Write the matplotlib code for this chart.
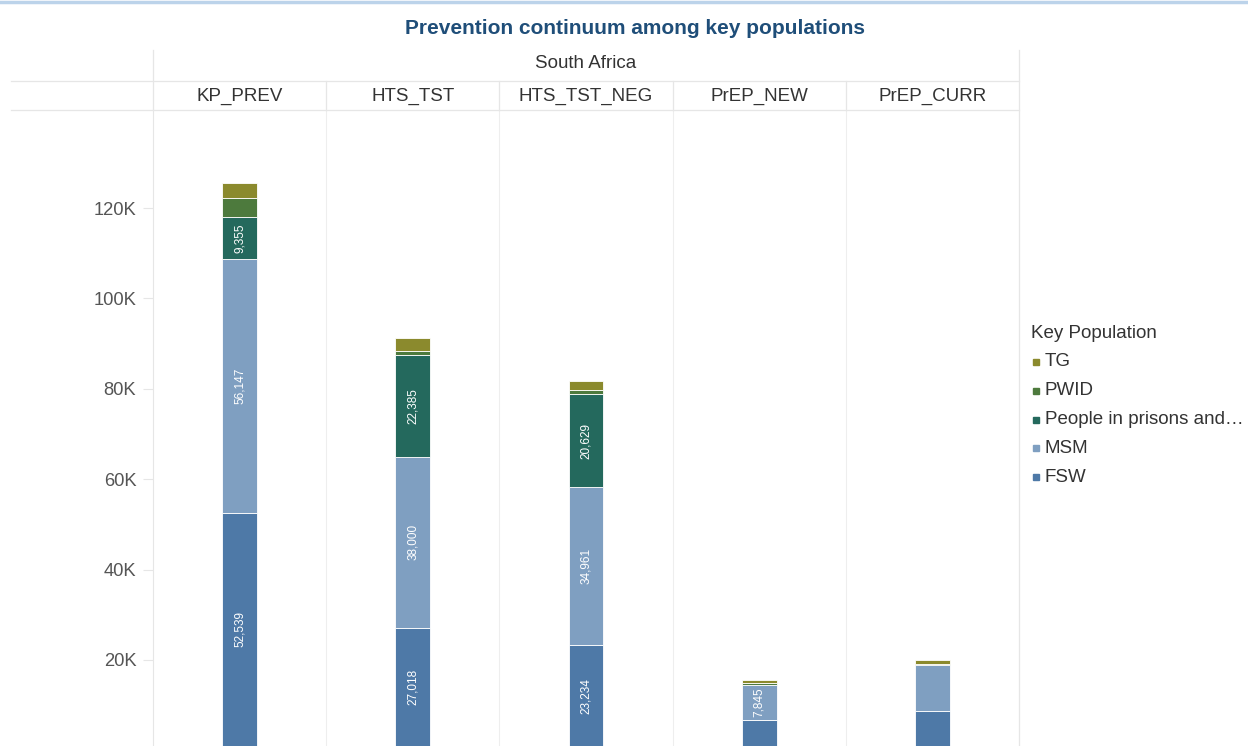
import matplotlib.pyplot as plt
from matplotlib.lines import Line2D
import numpy as np

plt.rcParams['font.family'] = ['Liberation Sans', 'DejaVu Sans']

# indicators along the prevention continuum
indicators = ["KP_PREV", "HTS_TST", "HTS_TST_NEG", "PrEP_NEW", "PrEP_CURR"]

# key population groups, stacked from the bottom up
groups = ["FSW", "MSM", "People in prisons and...", "PWID", "TG"]

fsw = [52539, 27018, 23234, 6700, 8800]
msm = [56147, 38000, 34961, 7845, 10100]
prisons = [9355, 22385, 20629, 0, 0]
pwid = [4200, 900, 900, 300, 200]
tg = [3300, 2900, 2000, 800, 900]

# which segments get a value printed on them
show_label = {
    "FSW": [True, True, True, False, False],
    "MSM": [True, True, True, True, False],
    "People in prisons and...": [True, True, True, False, False],
    "PWID": [False] * 5,
    "TG": [False] * 5,
}

colors = {
    "FSW": "#4e79a7",
    "MSM": "#7f9fc1",
    "People in prisons and...": "#24695d",
    "PWID": "#4d7a3d",
    "TG": "#8b8a2d",
}

series = {"FSW": fsw, "MSM": msm, "People in prisons and...": prisons,
          "PWID": pwid, "TG": tg}

W, H = 1248, 746
fig = plt.figure(figsize=(W / 100, H / 100), dpi=100)

def fx(px):
    return px / W

def fy(py):
    return 1 - py / H

left, right, top, bottom = 153, 1019, 110, 746
ax = fig.add_axes([fx(left), fy(bottom), fx(right - left), fy(top) - fy(bottom)])

y_min, y_max = 970, 141700
x = np.arange(len(indicators))
base = np.zeros(len(indicators))
for g in groups:
    vals = np.array(series[g], dtype=float)
    ax.bar(x, vals, bottom=base, width=0.2, color=colors[g],
           edgecolor="white", linewidth=0.6)
    for i, v in enumerate(vals):
        if show_label[g][i] and v > 0:
            lo = max(base[i], y_min)
            ax.text(x[i], (lo + base[i] + v) / 2, f"{int(v):,}", rotation=90,
                    ha="center", va="center", color="white", fontsize=8.5)
    base += vals

ax.set_xlim(-0.5, len(indicators) - 0.5)
ax.set_ylim(y_min, y_max)
ax.set_xticks([])
ax.set_yticks([20000, 40000, 60000, 80000, 100000, 120000])
ax.set_yticklabels(["20K", "40K", "60K", "80K", "100K", "120K"])
ax.tick_params(axis="y", length=7, color="#e6e6e6", pad=5,
               labelsize=13.2, labelcolor="#555555")
for s in ["top", "right", "bottom"]:
    ax.spines[s].set_visible(False)
ax.spines["left"].set_color("#e6e6e6")
for i in range(1, len(indicators)):
    ax.axvline(i - 0.5, color="#eeeeee", linewidth=0.8)

# header rows and grid lines
line_color = "#e6e6e6"
fig.add_artist(Line2D([fx(11), fx(right)], [fy(81), fy(81)], color=line_color, lw=0.9))
fig.add_artist(Line2D([fx(11), fx(right)], [fy(110), fy(110)], color=line_color, lw=0.9))
fig.add_artist(Line2D([fx(left), fx(left)], [fy(50), fy(110)], color=line_color, lw=0.9))
fig.add_artist(Line2D([fx(right), fx(right)], [fy(50), fy(746)], color=line_color, lw=0.9))
col_w = (right - left) / len(indicators)
for i in range(1, len(indicators)):
    xp = left + i * col_w
    fig.add_artist(Line2D([fx(xp), fx(xp)], [fy(81), fy(110)], color=line_color, lw=0.9))
for i, name in enumerate(indicators):
    fig.text(fx(left + (i + 0.5) * col_w), fy(96), name, ha="center", va="center",
             fontsize=13.5, color="#333333")
fig.text(fx((left + right) / 2), fy(64), "South Africa", ha="center", va="center",
         fontsize=13.5, color="#333333")

# top border strip
fig.add_artist(Line2D([0, 1], [fy(1.5), fy(1.5)], color="#bcd3ea", lw=2.5))

fig.text(fx(635), fy(28), "Prevention continuum among key populations",
         ha="center", va="center", fontsize=15, fontweight="bold", color="#1f4e79")

# legend
fig.text(fx(1031), fy(333), "Key Population", ha="left", va="center",
         fontsize=13.5, color="#333333")
for k, g in enumerate(reversed(groups)):
    yp = 362 + k * 28.8
    fig.add_artist(Line2D([fx(1036)], [fy(yp)], marker="s", markersize=4.5,
                          color=colors[g], linestyle="none"))
    fig.text(fx(1045), fy(yp), g if g != "People in prisons and..." else "People in prisons and\u2026",
             ha="left", va="center", fontsize=13.5, color="#333333")

fig.savefig("out.png", dpi=100)
